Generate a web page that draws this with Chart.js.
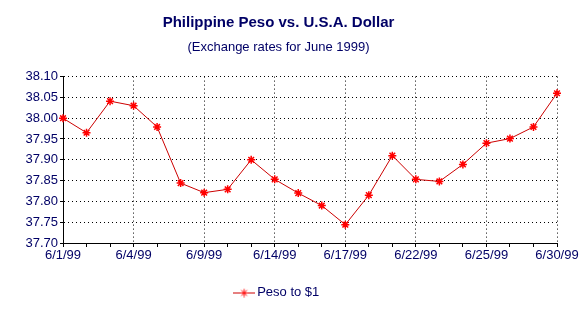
<!DOCTYPE html>
<html>
<head>
<meta charset="utf-8">
<script src="https://cdn.jsdelivr.net/npm/chart.js@4"></script>
<style>
  body { margin: 0; background: #fff; }
  #wrap { width: 586px; height: 312px; }
</style>
</head>
<body>
<div id="wrap"><canvas id="line-chart"></canvas></div>
<script>
// trading days of June 1999
var dates = ['6/1/99','6/2/99','6/3/99','6/4/99','6/7/99','6/8/99','6/9/99','6/10/99','6/11/99',
             '6/14/99','6/15/99','6/16/99','6/17/99','6/18/99','6/21/99','6/22/99','6/23/99',
             '6/24/99','6/25/99','6/28/99','6/29/99','6/30/99'];
var pesoToDollar = [38.000, 37.965, 38.041, 38.030, 37.979, 37.844, 37.821, 37.829, 37.900,
                    37.853, 37.820, 37.790, 37.744, 37.815, 37.910, 37.853, 37.848,
                    37.889, 37.940, 37.951, 37.979, 38.060];
var yMin = 37.70, yMax = 38.10, yStep = 0.05;
var labelEvery = 3;

var navy = '#000066';
var fontName = '"Liberation Sans", Arial, sans-serif';

// legend glyph: short line with a star on it
var glyph = document.createElement('canvas');
glyph.width = 22; glyph.height = 10;
(function () {
    var g = glyph.getContext('2d');
    g.strokeStyle = '#cc0000';
    g.lineWidth = 1;
    g.beginPath(); g.moveTo(0, 5.5); g.lineTo(22, 5.5); g.stroke();
    g.strokeStyle = '#ff0000';
    Chart.helpers.drawPoint(g, {pointStyle: 'star', radius: 4, borderWidth: 1.5}, 11, 5.5);
})();

var ctx = document.getElementById('line-chart').getContext('2d');

var graphData = {
    type: 'line',
    data: {
        labels: dates,
        datasets: [{
            label: 'Peso to $1',
            data: pesoToDollar,
            borderColor: '#cc0000',
            borderWidth: 1,
            pointStyle: 'star',
            pointRadius: 4,
            pointBorderColor: '#ff0000',
            pointBorderWidth: 1.5,
            fill: false,
            tension: 0
        }]
    },
    options: {
        responsive: true,
        maintainAspectRatio: false,
        animation: false,
        layout: { padding: { left: 0, right: 29, top: 0, bottom: 3 } },
        plugins: {
            title: {
                display: true,
                text: 'Philippine Peso vs. U.S.A. Dollar',
                color: navy,
                font: { family: fontName, size: 15, weight: 'bold' },
                padding: { top: 14, bottom: 8 }
            },
            subtitle: {
                display: true,
                text: '(Exchange rates for June 1999)',
                color: navy,
                font: { family: fontName, size: 13 },
                padding: { top: 0, bottom: 21 }
            },
            legend: {
                position: 'bottom',
                labels: {
                    color: navy,
                    font: { family: fontName, size: 13 },
                    usePointStyle: true,
                    pointStyle: glyph,
                    padding: 20
                }
            },
            tooltip: { enabled: false }
        },
        scales: {
            x: {
                offset: false,
                grid: {
                    color: function (c) { return (c.index > 0 && c.index % labelEvery === 0) ? '#000' : 'rgba(0,0,0,0)'; },
                    tickColor: '#000',
                    tickLength: 4,
                    tickBorderDash: []
                },
                border: { color: '#000', width: 1, dash: [1, 3] },
                ticks: {
                    autoSkip: false,
                    maxRotation: 0,
                    color: navy,
                    padding: 1,
                    font: { family: fontName, size: 13 },
                    callback: function (v, i) { return i % labelEvery === 0 ? dates[i] : ''; }
                },
                afterFit: function (s) { s.height = 23; }
            },
            y: {
                min: yMin,
                max: yMax,
                grid: {
                    color: function (c) { return c.index > 0 ? '#000' : 'rgba(0,0,0,0)'; },
                    tickColor: '#000',
                    tickLength: 3,
                    tickBorderDash: []
                },
                border: { color: '#000', width: 1, dash: [1, 3] },
                ticks: {
                    stepSize: yStep,
                    color: navy,
                    padding: 2,
                    font: { family: fontName, size: 13 },
                    callback: function (v) { return v.toFixed(2); }
                },
                afterFit: function (s) { s.width = 63; }
            }
        }
    }
};

var myChart = new Chart(ctx, graphData);
</script>
</body>
</html>
